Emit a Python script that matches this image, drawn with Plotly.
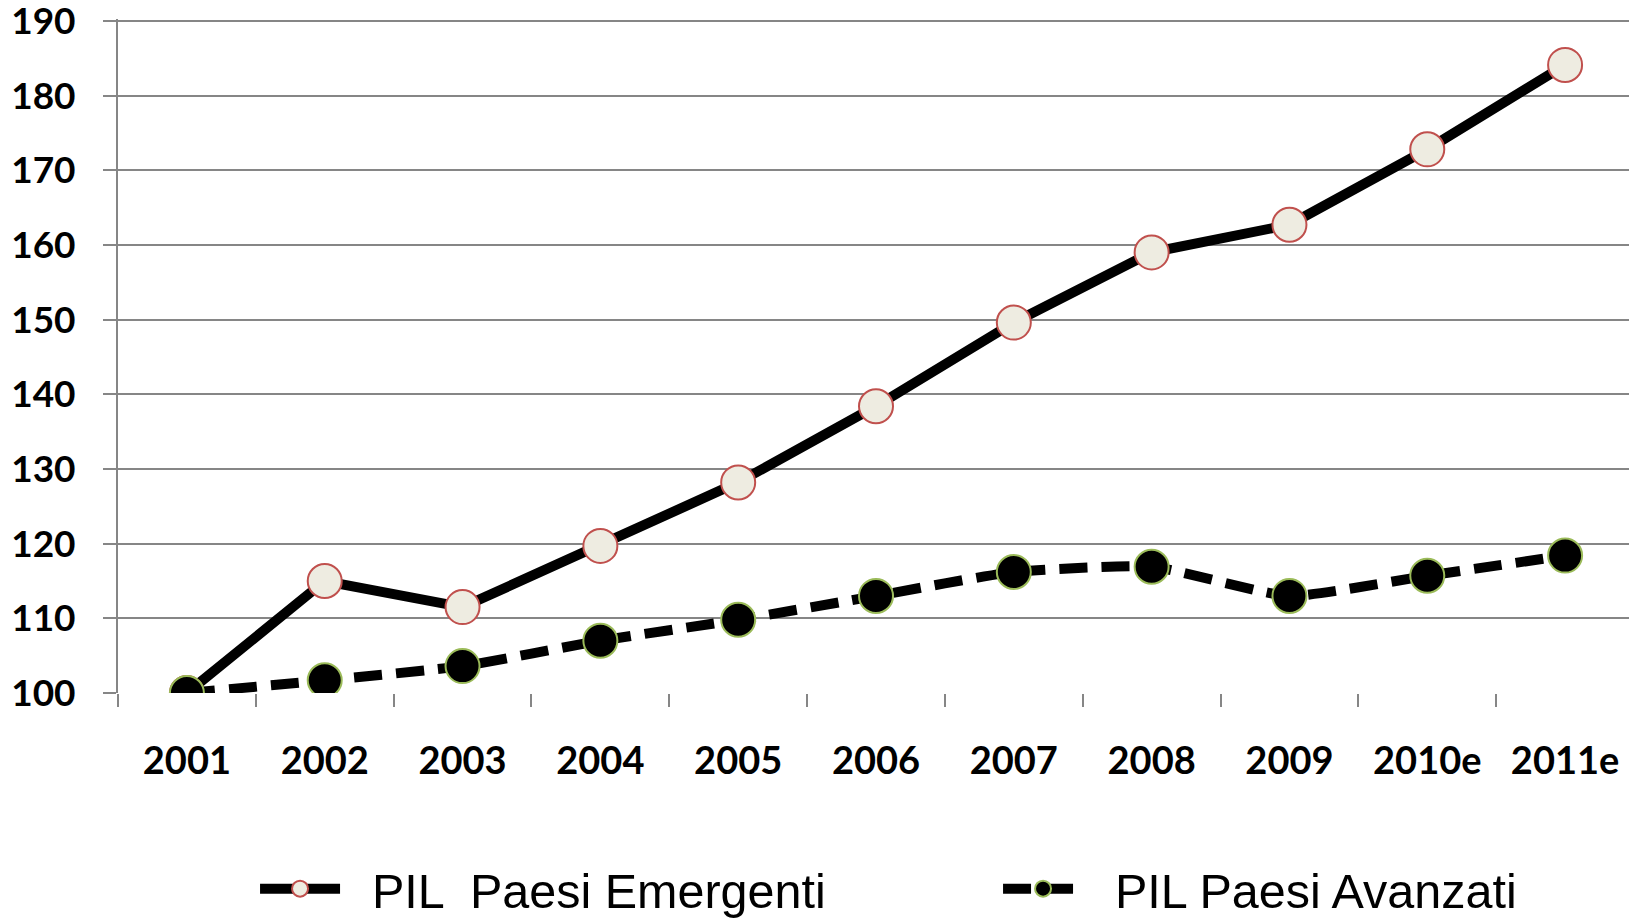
import plotly.graph_objects as go

years = ["2001", "2002", "2003", "2004", "2005", "2006", "2007", "2008", "2009", "2010e", "2011e"]
pil_emergenti = [100.0, 115.0, 111.5, 119.7, 128.2, 138.4, 149.6, 159.0, 162.7, 172.8, 184.1]
pil_avanzati = [100.0, 101.7, 103.6, 107.0, 109.8, 113.0, 116.2, 116.9, 113.0, 115.7, 118.4]
y_ticks = [100, 110, 120, 130, 140, 150, 160, 170, 180, 190]

fig = go.Figure()
fig.add_trace(go.Scatter(
    x=years, y=pil_emergenti, name="  PIL  Paesi Emergenti",
    mode="lines+markers",
    line=dict(color="black", width=10),
    marker=dict(size=34, color="#EEECE1", line=dict(color="#C0504D", width=2)),
))
fig.add_trace(go.Scatter(
    x=years, y=pil_avanzati, name="  PIL Paesi Avanzati",
    mode="lines+markers",
    line=dict(color="black", width=10, dash="28px,14px", shape="spline", smoothing=0.5),
    marker=dict(size=34, color="black", line=dict(color="#9BBB59", width=2)),
))

fig.update_layout(
    width=1629, height=912,
    margin=dict(l=110, r=3, t=11, b=227, autoexpand=False),
    paper_bgcolor="white", plot_bgcolor="white",
    font=dict(family="Lato", color="black"),
    showlegend=True,
    legend=dict(
        orientation="h", x=0.0904, xanchor="left", y=-0.291, yanchor="middle",
        font=dict(family="Liberation Sans", size=48.5, color="black"),
        itemwidth=80, entrywidth=648,
        bgcolor="rgba(0,0,0,0)",
    ),
)
fig.update_xaxes(
    type="category", automargin=False,
    showline=False, showgrid=False,
    ticks="outside", ticklen=13, tickwidth=2, tickcolor="#868686",
    tickson="boundaries",
    tickfont=dict(family="Lato", size=38, color="black", weight="bold"),
    ticklabelstandoff=42, ticklabeloverflow="allow",
    range=[-0.5, 10.5],
    zeroline=False,
)
fig.update_yaxes(
    range=[100, 190.25], tickvals=y_ticks, automargin=False,
    showgrid=True, gridcolor="#868686", gridwidth=2,
    showline=True, linecolor="#868686", linewidth=2,
    ticks="outside", ticklen=13, tickwidth=2, tickcolor="#868686",
    tickfont=dict(family="Lato", size=37, color="black", weight="bold"),
    ticklabelstandoff=20, ticklabeloverflow="allow",
    zeroline=False,
)

fig.write_html("out.html")
